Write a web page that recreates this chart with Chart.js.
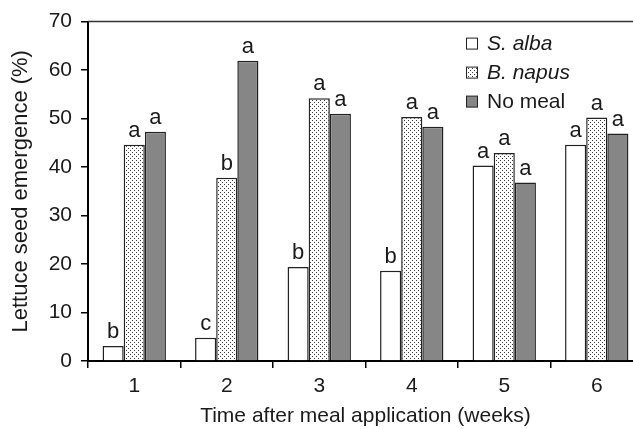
<!DOCTYPE html>
<html>
<head>
<meta charset="utf-8">
<script src="https://cdn.jsdelivr.net/npm/chart.js@4.4.0/dist/chart.umd.min.js"></script>
<style>
  html, body { margin: 0; padding: 0; background: #fff; overflow: hidden; }
  #wrap { width: 643px; height: 429px; }
</style>
</head>
<body>
<div id="wrap"><canvas id="myChart"></canvas></div>
<script>
//weeks after the meal was applied
const weeks = ['1', '2', '3', '4', '5', '6'];
const seriesNames = ['S. alba', 'B. napus', 'No meal'];

//emergence in % for every treatment
const sAlba = [3.1, 4.8, 19.4, 18.6, 40.3, 44.6];
const bNapus = [44.6, 37.8, 54.2, 50.3, 42.9, 50.2];
const noMeal = [47.3, 61.9, 51.0, 48.3, 36.8, 46.9];

//letters of significance over the bars
const lettersAlba = ['b', 'c', 'b', 'b', 'a', 'a'];
const lettersNapus = ['a', 'b', 'a', 'a', 'a', 'a'];
const lettersNoMeal = ['a', 'a', 'a', 'a', 'a', 'a'];

const yMin = 0, yMax = 70, yStep = 10;

const family = '"Liberation Sans", Arial, Helvetica, sans-serif';

//small canvas with dots, used as fill for B. napus
function dotPattern() {
  let c = document.createElement('canvas');
  c.width = 4; c.height = 4;
  let p = c.getContext('2d');
  p.fillStyle = '#fff';
  p.fillRect(0, 0, 4, 4);
  p.fillStyle = '#3a3a3a';
  p.fillRect(0, 0, 1, 1);
  p.fillRect(2, 2, 1, 1);
  return p.createPattern(c, 'repeat');
}
const dots = dotPattern();

const fills = ['#ffffff', dots, '#868686'];
const letters = [lettersAlba, lettersNapus, lettersNoMeal];

//letters a, b, c above every bar
const letterPlugin = {
  id: 'letters',
  afterDatasetsDraw(chart) {
    let ctx = chart.ctx;
    ctx.save();
    ctx.font = '22px ' + family;
    ctx.fillStyle = '#1a1a1a';
    ctx.textAlign = 'center';
    ctx.textBaseline = 'alphabetic';
    chart.data.datasets.forEach((ds, i) => {
      chart.getDatasetMeta(i).data.forEach((bar, j) => {
        ctx.fillText(letters[i][j], bar.x, bar.y - 8);
      });
    });
    ctx.restore();
  }
};

//top border line and the legend (mixed italic / normal labels)
const framePlugin = {
  id: 'frame',
  afterDraw(chart) {
    let ctx = chart.ctx;
    let a = chart.chartArea;
    ctx.save();
    ctx.strokeStyle = '#333';
    ctx.lineWidth = 1.5;
    ctx.beginPath();
    ctx.moveTo(a.left, a.top);
    ctx.lineTo(chart.width, a.top);
    ctx.stroke();

    let x = a.left + 378, y = a.top + 22;
    chart.data.datasets.forEach((ds, i) => {
      let cy = y + i * 29;
      ctx.fillStyle = ds.backgroundColor;
      ctx.fillRect(x, cy - 5.5, 11, 11);
      ctx.strokeStyle = '#222';
      ctx.lineWidth = 1;
      ctx.strokeRect(x + 0.5, cy - 5.5, 11, 11);
      ctx.fillStyle = '#1a1a1a';
      ctx.font = (i < 2 ? 'italic ' : '') + '21px ' + family;
      ctx.textAlign = 'left';
      ctx.textBaseline = 'middle';
      ctx.fillText(ds.label, x + 21, cy + 1);
    });
    ctx.restore();
  }
};

let ctx = document.getElementById('myChart').getContext('2d');
let chart = new Chart(ctx, {
  type: 'bar',
  data: {
    labels: weeks,
    datasets: [sAlba, bNapus, noMeal].map((values, i) => ({
      label: seriesNames[i],
      data: values,
      backgroundColor: fills[i],
      borderColor: '#222',
      borderWidth: 1.5,
      barPercentage: 1,
      categoryPercentage: 0.685
    }))
  },
  options: {
    responsive: true,
    maintainAspectRatio: false,
    animation: false,
    layout: { padding: { left: 0, right: 0, top: 20, bottom: 0 } },
    plugins: {
      legend: { display: false },
      tooltip: { enabled: false }
    },
    scales: {
      x: {
        grid: { offset: true, drawOnChartArea: false, drawTicks: true, tickLength: 7, color: '#000', lineWidth: 1.5 },
        border: { display: true, color: '#000', width: 2 },
        ticks: { color: '#1a1a1a', font: { size: 21, family: family }, padding: 6 },
        title: {
          display: true,
          text: 'Time after meal application (weeks)',
          color: '#1a1a1a',
          font: { size: 21, family: family },
          padding: { top: 4, bottom: 0 }
        },
        afterFit: scale => { scale.height = 68; }
      },
      y: {
        min: yMin,
        max: yMax,
        grid: { drawOnChartArea: false, drawTicks: true, tickLength: 7, color: '#000', lineWidth: 1.5 },
        border: { display: true, color: '#000', width: 2 },
        ticks: { stepSize: yStep, color: '#1a1a1a', font: { size: 21, family: family }, padding: 9 },
        title: {
          display: true,
          text: 'Lettuce seed emergence (%)',
          color: '#1a1a1a',
          font: { size: 22, family: family },
          padding: { top: 8, bottom: 0 }
        },
        afterFit: scale => { scale.width = 88; }
      }
    }
  },
  plugins: [letterPlugin, framePlugin]
});
</script>
</body>
</html>
